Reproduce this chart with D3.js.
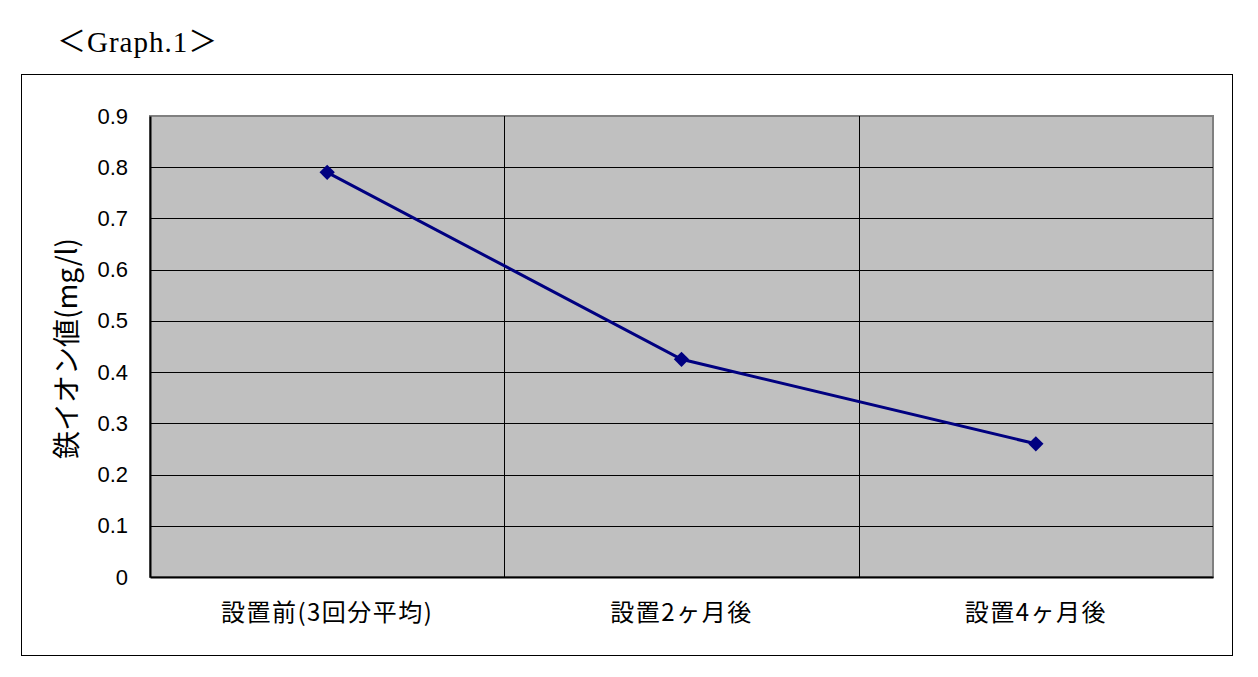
<!DOCTYPE html>
<html lang="ja">
<head>
<meta charset="utf-8">
<title>Graph.1</title>
<script src="https://cdn.jsdelivr.net/npm/d3@7"></script>
<style>
    body { margin: 0; background: #fff; }
    .axis text { font-family: "Liberation Sans", Arial, sans-serif; font-size: 22px; fill: #000; }
    .xaxis text { font-family: "Noto Sans CJK JP", sans-serif; font-size: 24px; letter-spacing: 1.5px; }
</style>
</head>
<body>
<div id="graph"></div>
<script>
// data
var categories = ["設置前(3回分平均)", "設置2ヶ月後", "設置4ヶ月後"];
var ironValues = [0.79, 0.425, 0.26];
var yTicks = [0, 0.1, 0.2, 0.3, 0.4, 0.5, 0.6, 0.7, 0.8, 0.9];

var width = 1258, height = 677;
var plotLeft = 150, plotRight = 1213, plotTop = 116, plotBottom = 577;

var svg = d3.select("#graph").append("svg")
    .attr("width", width)
    .attr("height", height);

// title
svg.append("text")
    .attr("x", 57)
    .attr("y", 52)
    .style("font-family", "'Liberation Serif', 'Noto Sans CJK JP', serif")
    .style("font-size", "29px")
    .style("letter-spacing", "1px")
    .text("＜Graph.1＞");

// outer chart frame
svg.append("rect")
    .attr("x", 21.5).attr("y", 74.5)
    .attr("width", 1211).attr("height", 581)
    .attr("fill", "#fff")
    .attr("stroke", "#000")
    .attr("stroke-width", 1);

var x = d3.scaleBand().domain(categories).range([plotLeft, plotRight]);
var y = d3.scaleLinear().domain([0, 0.9]).range([plotBottom, plotTop]);

// plot area
svg.append("rect")
    .attr("x", plotLeft).attr("y", plotTop)
    .attr("width", plotRight - plotLeft).attr("height", plotBottom - plotTop)
    .attr("fill", "#c0c0c0")
    .attr("stroke", "#808080")
    .attr("stroke-width", 2);

// horizontal gridlines
svg.append("g").selectAll("line")
    .data(yTicks.filter(function(d) { return d > 0 && d < 0.9; }))
    .enter().append("line")
    .attr("x1", plotLeft).attr("x2", plotRight)
    .attr("y1", function(d) { return Math.round(y(d)) + 0.5; })
    .attr("y2", function(d) { return Math.round(y(d)) + 0.5; })
    .attr("stroke", "#000")
    .attr("stroke-width", 1);

// vertical gridlines between categories
svg.append("g").selectAll("line")
    .data(categories.slice(1))
    .enter().append("line")
    .attr("x1", function(d) { return Math.round(x(d)) + 0.5; })
    .attr("x2", function(d) { return Math.round(x(d)) + 0.5; })
    .attr("y1", plotTop).attr("y2", plotBottom)
    .attr("stroke", "#000")
    .attr("stroke-width", 1);

// y axis
var yAxis = d3.axisLeft(y).tickValues(yTicks).tickSize(0).tickPadding(22)
    .tickFormat(function(d) { return d === 0 ? "0" : d3.format(".1f")(d); });
svg.append("g")
    .attr("class", "axis")
    .attr("transform", "translate(" + plotLeft + ",0)")
    .call(yAxis)
    .call(function(g) { g.select(".domain").attr("stroke", "#000").attr("stroke-width", 2); });

// x axis
var xAxis = d3.axisBottom(x).tickSize(0).tickPadding(27);
svg.append("g")
    .attr("class", "axis xaxis")
    .attr("transform", "translate(0," + plotBottom + ")")
    .call(xAxis)
    .call(function(g) { g.select(".domain").attr("stroke", "#000").attr("stroke-width", 2); });

// y label
svg.append("text")
    .attr("transform", "translate(77," + ((plotTop + plotBottom) / 2 + 2) + ") rotate(-90)")
    .attr("text-anchor", "middle")
    .style("font-family", "'Noto Sans CJK JP', sans-serif")
    .style("font-size", "28px")
    .text("鉄イオン値(mg/l)");

// line + markers
var points = categories.map(function(c, i) { return { cat: c, val: ironValues[i] }; });
var line = d3.line()
    .x(function(d) { return x(d.cat) + x.bandwidth() / 2; })
    .y(function(d) { return y(d.val); });

svg.append("path")
    .datum(points)
    .attr("d", line)
    .attr("fill", "none")
    .attr("stroke", "#000080")
    .attr("stroke-width", 3);

svg.selectAll(".marker")
    .data(points)
    .enter().append("path")
    .attr("class", "marker")
    .attr("d", d3.symbol().type(d3.symbolDiamond2).size(150))
    .attr("transform", function(d) {
        return "translate(" + (x(d.cat) + x.bandwidth() / 2) + "," + y(d.val) + ")";
    })
    .attr("fill", "#000080");
</script>
</body>
</html>
